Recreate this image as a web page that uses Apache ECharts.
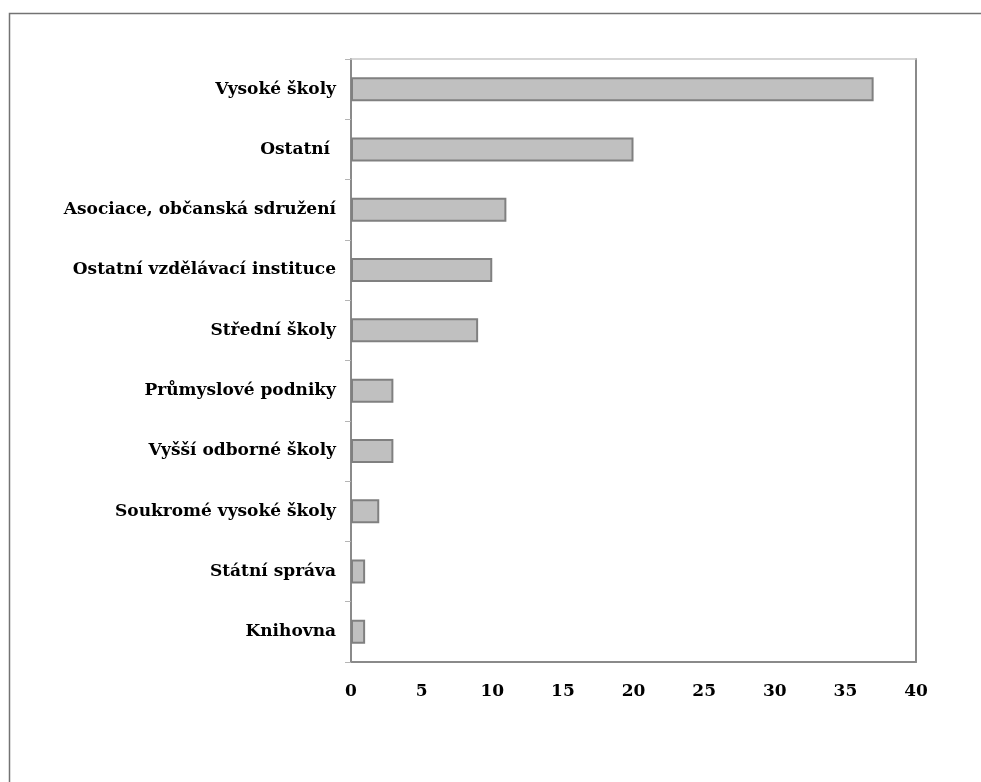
<!DOCTYPE html>
<html>
<head>
<meta charset="utf-8">
<script src="https://cdn.jsdelivr.net/npm/echarts@6/dist/echarts.min.js"></script>
<style>
html,body{margin:0;padding:0;background:#fff;}
#c{width:981px;height:782px;}
</style>
</head>
<body>
<div id="c"></div>
<script>
const categories = ["Vysoké školy","Ostatní ","Asociace, občanská sdružení","Ostatní vzdělávací instituce","Střední školy","Průmyslové podniky","Vyšší odborné školy","Soukromé vysoké školy","Státní správa","Knihovna"];
const values = [37,20,11,10,9,3,3,2,1,1];
const xTicks = [0,5,10,15,20,25,30,35,40];

const FONT = "DejaVu Serif";
const chart = echarts.init(document.getElementById('c'), null, {renderer:'canvas'});
chart.setOption({
  animation:false,
  backgroundColor:'#fff',
  graphic:[{
    type:'rect', z:-1,
    shape:{x:9.5,y:13.5,width:1100,height:1100},
    style:{fill:'none',stroke:'#737373',lineWidth:1.5}
  }],
  grid:{left:351,right:65,top:59,bottom:120,show:false},
  xAxis:[{
    type:'value',min:xTicks[0],max:xTicks[xTicks.length-1],interval:5,
    axisLine:{show:true,onZero:false,lineStyle:{color:'#8a8a8a',width:2}},
    axisTick:{show:false},
    splitLine:{show:false},
    axisLabel:{color:'#000',fontFamily:FONT,fontWeight:'bold',fontSize:17,margin:21}
  },{
    type:'value',position:'top',min:xTicks[0],max:xTicks[xTicks.length-1],interval:5,
    axisLine:{show:true,onZero:false,lineStyle:{color:'#c8c8c8',width:1.5}},
    axisTick:{show:false},axisLabel:{show:false},splitLine:{show:false}
  }],
  yAxis:[{
    type:'category',inverse:true,data:categories,
    axisLine:{show:true,onZero:false,lineStyle:{color:'#8a8a8a',width:2}},
    axisTick:{show:true,inside:false,length:6,lineStyle:{color:'#b5b5b5',width:1}},
    axisLabel:{color:'#000',fontFamily:FONT,fontWeight:'bold',fontSize:17,margin:15}
  },{
    type:'category',inverse:true,data:categories,position:'right',
    axisLine:{show:true,onZero:false,lineStyle:{color:'#8a8a8a',width:2}},
    axisTick:{show:false},axisLabel:{show:false}
  }],
  series:[{
    type:'bar',data:values,barWidth:24,xAxisIndex:0,yAxisIndex:0,
    itemStyle:{color:'#c0c0c0',borderColor:'#808080',borderWidth:2}
  }]
});
</script>
</body>
</html>
